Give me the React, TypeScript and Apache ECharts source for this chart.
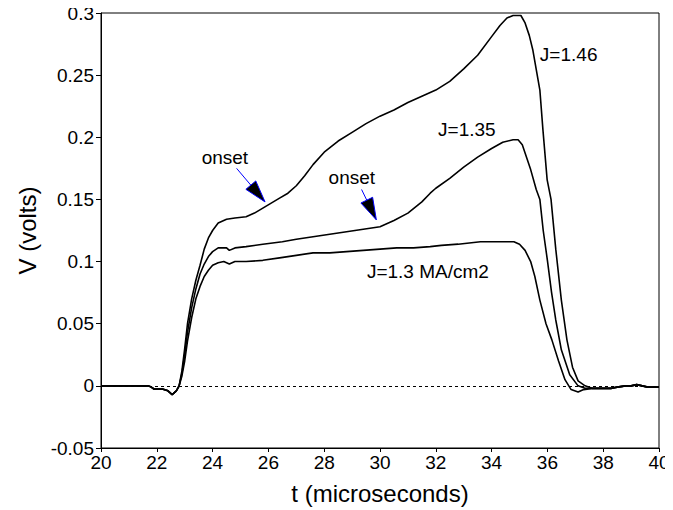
import React, { useEffect, useRef } from "react";
import * as echarts from "echarts";

// Voltage traces: [t (microseconds), V (volts)]
const baseline: number[][] = [
  [20.0, 0], [20.5, 0], [21.0, 0], [21.4, 0], [21.7, 0], [21.8, -0.001], [21.9, -0.0025],
  [22.2, -0.0025], [22.4, -0.004], [22.55, -0.007], [22.7, -0.004], [22.8, 0.0],
];
const tail: number[][] = [
  [37.6, -0.002], [38.0, -0.002], [38.3, -0.002], [38.5, -0.001], [38.8, 0.0], [39.0, 0.0],
  [39.2, 0.001], [39.4, 0.0], [39.6, -0.001], [39.8, -0.001], [40.0, -0.001],
];
const traceJ146: number[][] = [
  [22.9, 0.012], [23.0, 0.03], [23.1, 0.05], [23.25, 0.07], [23.4, 0.085], [23.55, 0.097],
  [23.7, 0.11], [23.85, 0.119], [24.0, 0.125], [24.2, 0.131], [24.5, 0.134], [24.8, 0.135],
  [25.2, 0.136], [25.5, 0.139], [25.8, 0.143], [26.1, 0.147], [26.4, 0.151], [26.7, 0.155],
  [27.0, 0.161], [27.3, 0.169], [27.6, 0.178], [28.0, 0.188], [28.5, 0.197], [29.0, 0.204],
  [29.5, 0.211], [30.0, 0.217], [30.5, 0.222], [31.0, 0.228], [31.5, 0.233], [32.0, 0.238],
  [32.5, 0.245], [33.0, 0.255], [33.5, 0.266], [34.0, 0.281], [34.3, 0.29], [34.55, 0.296],
  [34.77, 0.298], [35.05, 0.298], [35.2, 0.292], [35.35, 0.282], [35.48, 0.27], [35.73, 0.238],
  [35.84, 0.206], [35.99, 0.166], [36.13, 0.15], [36.3, 0.11], [36.5, 0.069], [36.7, 0.037],
  [36.9, 0.015], [37.1, 0.004], [37.35, 0.0],
];
const traceJ135: number[][] = [
  [22.9, 0.01], [23.0, 0.025], [23.1, 0.043], [23.25, 0.063], [23.4, 0.078], [23.55, 0.09],
  [23.7, 0.098], [23.85, 0.104], [24.0, 0.108], [24.2, 0.111], [24.5, 0.111], [24.6, 0.109],
  [24.8, 0.111], [25.2, 0.112], [25.8, 0.114], [26.5, 0.116], [27.0, 0.118], [27.6, 0.12],
  [28.2, 0.122], [28.8, 0.124], [29.4, 0.126], [30.0, 0.128], [30.5, 0.133], [31.0, 0.139],
  [31.5, 0.148], [31.8, 0.155], [32.0, 0.159], [32.5, 0.167], [33.0, 0.176], [33.5, 0.184],
  [34.0, 0.191], [34.4, 0.196], [34.77, 0.198], [34.95, 0.198], [35.1, 0.194], [35.4, 0.174],
  [35.6, 0.158], [35.73, 0.15], [35.85, 0.125], [36.0, 0.101], [36.15, 0.075], [36.3, 0.053],
  [36.5, 0.029], [36.8, 0.009], [37.1, 0.0], [37.35, -0.002],
];
const traceJ13: number[][] = [
  [22.9, 0.008], [23.0, 0.02], [23.1, 0.036], [23.25, 0.055], [23.4, 0.07], [23.55, 0.08],
  [23.7, 0.088], [23.85, 0.093], [24.0, 0.097], [24.2, 0.099], [24.4, 0.1], [24.6, 0.098],
  [24.8, 0.1], [25.2, 0.1], [25.8, 0.101], [26.4, 0.103], [27.0, 0.105], [27.6, 0.107],
  [28.2, 0.107], [28.8, 0.108], [29.4, 0.109], [30.0, 0.11], [30.6, 0.111], [31.2, 0.111],
  [31.8, 0.112], [32.2, 0.113], [32.8, 0.114], [33.6, 0.116], [34.2, 0.116], [34.8, 0.116],
  [35.0, 0.114], [35.2, 0.109], [35.4, 0.1], [35.55, 0.088], [35.73, 0.069], [35.95, 0.05],
  [36.16, 0.037], [36.4, 0.02], [36.63, 0.005], [36.85, -0.003], [37.1, -0.005], [37.3, -0.003],
];

// Annotations (data coordinates)
const seriesLabels = [
  { text: "J=1.46", t: 35.73, v: 0.267 },
  { text: "J=1.35", t: 32.08, v: 0.206 },
  { text: "J=1.3 MA/cm2", t: 29.53, v: 0.0917 },
];
const onsetLabels = [
  { text: "onset", t: 24.44, v: 0.184 },
  { text: "onset", t: 28.99, v: 0.1673 },
];
const onsetArrows = [
  { from: [24.86, 0.175], to: [25.88, 0.148] },
  { from: [29.34, 0.158], to: [29.87, 0.1335] },
];

const FONT = "'Liberation Sans', Arial, Helvetica, sans-serif";

export default function App() {
  const ref = useRef<HTMLDivElement>(null);
  useEffect(() => {
    if (!ref.current) return;
    const chart = echarts.init(ref.current, null, { renderer: "svg" });
    const mk = (name: string, d: number[][]) => ({
      name,
      type: "line",
      data: [...baseline, ...d, ...tail],
      showSymbol: false,
      symbol: "none",
      lineStyle: { color: "#000", width: 1.6 },
      z: 3,
    });
    const option: any = {
      animation: false,
      backgroundColor: "#fff",
      textStyle: { fontFamily: FONT },
      grid: {
        left: 101, right: 14, top: 13, bottom: 62,
        show: true, borderColor: "#000", borderWidth: 1, backgroundColor: "transparent",
      },
      xAxis: {
        type: "value", min: 20, max: 40, interval: 2,
        name: "t (microseconds)", nameLocation: "middle", nameGap: 33,
        nameTextStyle: { fontSize: 24, color: "#000", fontFamily: FONT },
        axisLine: { show: true, onZero: false, lineStyle: { color: "#000", width: 1 } },
        axisTick: { show: true, length: 4, lineStyle: { color: "#000" } },
        axisLabel: { fontSize: 19, color: "#000", margin: 5, fontFamily: FONT },
        splitLine: { show: false },
      },
      yAxis: {
        type: "value", min: -0.05, max: 0.3, interval: 0.05,
        name: "V (volts)", nameLocation: "middle", nameGap: 60,
        nameTextStyle: { fontSize: 24, color: "#000", fontFamily: FONT },
        axisLine: { show: true, onZero: false, lineStyle: { color: "#000", width: 1 } },
        axisTick: { show: true, length: 5, lineStyle: { color: "#000" } },
        axisLabel: { fontSize: 19, color: "#000", margin: 7, fontFamily: FONT },
        splitLine: { show: false },
      },
      series: [
        {
          ...mk("J=1.46", traceJ146),
          markLine: {
            silent: true, symbol: "none", label: { show: false },
            lineStyle: { color: "#000", width: 1, type: [3, 3] },
            data: [{ yAxis: 0 }],
          },
        },
        mk("J=1.35", traceJ135),
        mk("J=1.3", traceJ13),
      ],
    };
    chart.setOption(option);

    const px = (t: number, v: number) => chart.convertToPixel({ gridIndex: 0 }, [t, v]) as number[];
    const graphics: any[] = [];
    seriesLabels.forEach((l) => {
      const [x, y] = px(l.t, l.v);
      graphics.push({
        type: "text", x, y, z: 10,
        style: { text: l.text, fill: "#000", font: `19px ${FONT}`, textAlign: "left", textVerticalAlign: "middle" },
      });
    });
    onsetLabels.forEach((l) => {
      const [x, y] = px(l.t, l.v);
      graphics.push({
        type: "text", x, y, z: 10,
        style: { text: l.text, fill: "#000", font: `19px ${FONT}`, textAlign: "center", textVerticalAlign: "middle" },
      });
    });
    onsetArrows.forEach((a) => {
      const [x1, y1] = px(a.from[0], a.from[1]);
      const [x2, y2] = px(a.to[0], a.to[1]);
      const dx = x2 - x1, dy = y2 - y1;
      const len = Math.sqrt(dx * dx + dy * dy);
      const ux = dx / len, uy = dy / len;
      const nx = -uy, ny = ux;
      const L = 22, W = 6.5;
      const bx = x2 - ux * L, by = y2 - uy * L;
      graphics.push({
        type: "line", z: 10,
        shape: { x1, y1, x2: bx, y2: by },
        style: { stroke: "#0000ff", lineWidth: 1 },
      });
      graphics.push({
        type: "polygon", z: 10,
        shape: { points: [[x2, y2], [bx + nx * W, by + ny * W], [bx - nx * W, by - ny * W]] },
        style: { fill: "#000", stroke: "#0000ff", lineWidth: 1 },
      });
    });
    chart.setOption({ graphic: graphics });

    return () => chart.dispose();
  }, []);
  return <div ref={ref} style={{ width: 673, height: 510, marginLeft: -8, marginTop: -8 }} />;
}
